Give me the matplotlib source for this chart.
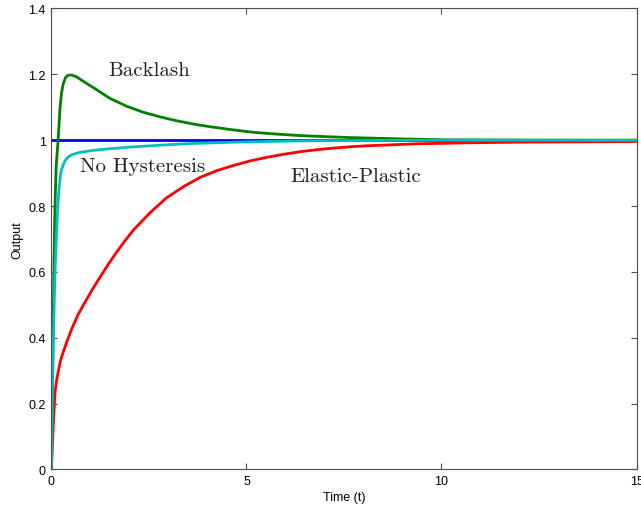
import matplotlib
matplotlib.use("Agg")
import matplotlib.pyplot as plt

# Step response of the system with different hysteresis models
t_reference = [0, 15]
y_reference = [1, 1]

t_backlash = [0, 0.03, 0.06, 0.09, 0.12, 0.17, 0.22, 0.26, 0.30, 0.36, 0.42,
              0.52, 0.65, 0.80, 1.07, 1.24, 1.50, 1.93, 2.35, 2.78, 3.21,
              3.64, 4.06, 4.49, 5.09, 5.60, 6.37, 7.0, 7.65, 8.3, 8.94,
              10.2, 11.5, 13.0, 15.0]
y_backlash = [0, 0.30, 0.60, 0.80, 0.92, 1.00, 1.10, 1.145, 1.171, 1.19, 1.197,
              1.198, 1.192, 1.180, 1.160, 1.147, 1.127, 1.103, 1.085, 1.071, 1.059,
              1.049, 1.041, 1.034, 1.025, 1.020, 1.014, 1.011, 1.008, 1.006, 1.004,
              1.001, 1.0005, 1.0, 1.0]

t_nohyst = [0, 0.02, 0.05, 0.09, 0.13, 0.16, 0.20, 0.24, 0.30, 0.35, 0.42,
            0.52, 0.73, 1.0, 1.4, 2.0, 2.8, 3.6, 5.0, 6.5, 8.0, 10.0, 15.0]
y_nohyst = [0, 0.19, 0.40, 0.60, 0.72, 0.80, 0.86, 0.902, 0.925, 0.938, 0.948,
            0.956, 0.963, 0.968, 0.973, 0.979, 0.985, 0.990, 0.995, 0.998, 0.999,
            1.0, 1.0]

t_elastic = [0, 0.02, 0.05, 0.09, 0.13, 0.17, 0.23, 0.30, 0.40, 0.52, 0.68,
             0.86, 1.05, 1.24, 1.45, 1.67, 1.90, 2.10, 2.53, 2.95, 3.40, 3.81,
             4.25, 4.66, 5.09, 5.52, 5.94, 6.37, 6.80, 7.23, 7.65, 8.08, 8.51,
             9.36, 10.65, 11.93, 13.6, 15.0]
y_elastic = [0, 0.062, 0.143, 0.234, 0.270, 0.295, 0.330, 0.356, 0.390, 0.427, 0.470,
             0.508, 0.547, 0.583, 0.622, 0.660, 0.697, 0.727, 0.780, 0.825, 0.860, 0.887,
             0.908, 0.923, 0.937, 0.948, 0.957, 0.965, 0.971, 0.976, 0.980, 0.983, 0.985,
             0.989, 0.992, 0.994, 0.995, 0.996]

x_ticks = [0, 5, 10, 15]
x_ticklabels = ["0", "5", "10", "15"]
y_ticks = [0, 0.2, 0.4, 0.6, 0.8, 1.0, 1.2, 1.4]
y_ticklabels = ["0", "0.2", "0.4", "0.6", "0.8", "1", "1.2", "1.4"]

labels = ["Backlash", "No Hysteresis", "Elastic-Plastic"]
label_pos = [(1.45, 1.198), (0.73, 0.905), (6.13, 0.875)]

plt.rcParams["font.family"] = ["Liberation Sans", "DejaVu Sans"]

fig = plt.figure(figsize=(6.41, 5.10), dpi=100)
ax = fig.add_axes([0.0803, 0.0775, 0.9127, 0.9039])

lw = 2.0
ax.plot(t_reference, y_reference, color="#0000ff", lw=lw, solid_capstyle="butt")
ax.plot(t_elastic, y_elastic, color="#ff0000", lw=lw)
ax.plot(t_backlash, y_backlash, color="#008000", lw=lw)
ax.plot(t_nohyst, y_nohyst, color="#00bfbf", lw=lw)

ax.set_xlim(0, 15)
ax.set_ylim(0, 1.4)
ax.set_xticks(x_ticks)
ax.set_xticklabels(x_ticklabels)
ax.set_yticks(y_ticks)
ax.set_yticklabels(y_ticklabels)
ax.tick_params(direction="in", length=4.3, width=0.8, color="0.3",
               top=True, right=True, labelsize=9, pad=4)

for sp in ax.spines.values():
    sp.set_color("0.3")
    sp.set_linewidth(0.8)

ax.set_xlabel("Time (t)", fontsize=9, labelpad=3)
ax.set_ylabel("Output", fontsize=9, labelpad=4)

for text, (x, y) in zip(labels, label_pos):
    ax.text(x, y, text, family="cmr10", fontsize=15, color="#222222",
            ha="left", va="baseline")

fig.savefig("out.png", dpi=100)
